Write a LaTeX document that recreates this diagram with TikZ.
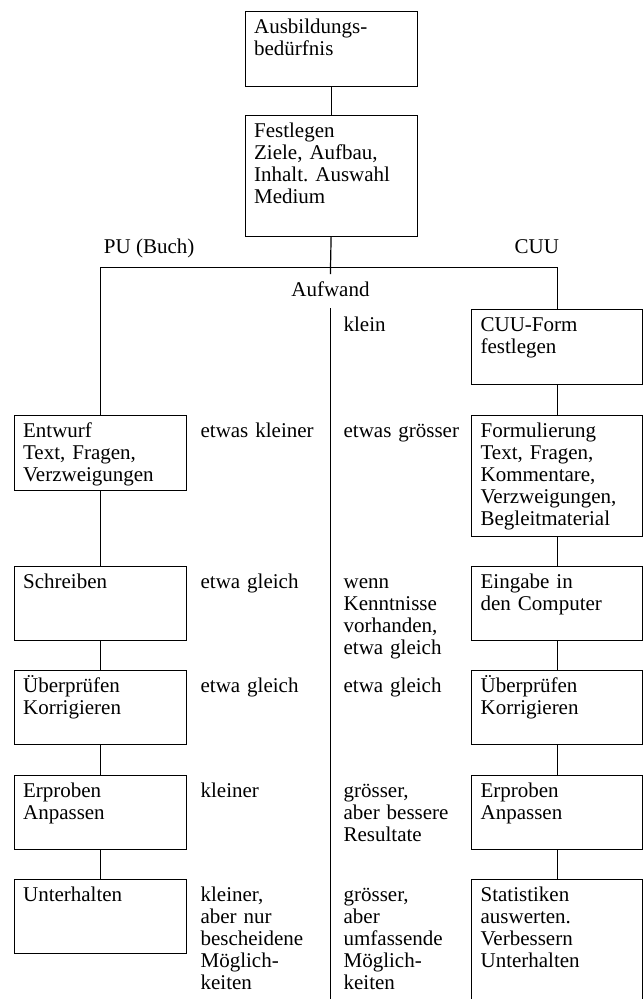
\documentclass[tikz,border=0pt]{standalone}
\usepackage{fontspec}
\setmainfont{Liberation Serif}
\frenchspacing

\tikzset{
  stepbox/.style={draw, anchor=north west, align=left, text width=#1,
    inner xsep=9pt, inner ysep=8pt, text height=14pt},
  stepbox/.default=154pt,
  note/.style={anchor=north west, align=left, text width=128pt,
    inner xsep=0pt, inner ysep=8pt, text height=14pt},
}

\begin{document}
\begin{tikzpicture}[x=1pt, y=-1pt, line width=1.2pt,
    font=\fontsize{21}{22}\selectfont]
        \useasboundingbox (0,0) rectangle (644,999);
        % helper coordinates
        \coordinate (bus)    at (330.5,267.5);
        \coordinate (bottom) at (330.5,1010);
        \coordinate (cola)   at (200,0);
        \coordinate (colb)   at (343,0);
        % top boxes
        \node[stepbox, text depth=45pt] (need) at (244.5,11)  {Ausbildungs-\\bedürfnis};
        \node[stepbox, text depth=91pt] (fest) at (244.5,115) {Festlegen\\Ziele, Aufbau,\\Inhalt. Auswahl\\Medium};
        % branch labels
        \node[anchor=base west] (pu)  at (100,253) {PU (Buch)};
        \node[anchor=base east] (cuu) at (563,253) {CUU};
        \node[anchor=north, text height=15pt, text depth=4pt, inner ysep=7pt] (aufwand) at (330.5,274) {Aufwand};
        % PU column
        \node[stepbox, text depth=45pt] (entwurf)   at (13.5,415) {Entwurf\\Text, Fragen,\\Verzweigungen};
        \node[stepbox, text depth=44pt] (schreiben) at (13.5,566) {Schreiben};
        \node[stepbox, text depth=44pt] (pruefpu)   at (13.5,670) {Überprüfen\\Korrigieren};
        \node[stepbox, text depth=44pt] (erprobpu)  at (13.5,775) {Erproben\\Anpassen};
        \node[stepbox, text depth=44pt] (unterpu)   at (13.5,879) {Unterhalten};
        % CUU column
        \node[stepbox=153pt, text depth=45pt]  (form)    at (471,309) {CUU-Form\\festlegen};
        \node[stepbox=153pt, text depth=91pt]  (formul)  at (471,415) {Formulierung\\Text, Fragen,\\Kommentare,\\Verzweigungen,\\Begleitmaterial};
        \node[stepbox=153pt, text depth=44pt]  (eingabe) at (471,566) {Eingabe in\\den Computer};
        \node[stepbox=153pt, text depth=44pt]  (pruefcu) at (471,670) {Überprüfen\\Korrigieren};
        \node[stepbox=153pt, text depth=44pt]  (erprobcu) at (471,775) {Erproben\\Anpassen};
        \node[stepbox=153pt, text depth=100pt] (stat)    at (471,879) {Statistiken\\auswerten.\\Verbessern\\Unterhalten};
        % Aufwand PU
        \node[note] (apu1) at (entwurf.north -| cola)   {etwas kleiner};
        \node[note] (apu2) at (schreiben.north -| cola) {etwa gleich};
        \node[note] (apu3) at (pruefpu.north -| cola)   {etwa gleich};
        \node[note] (apu4) at (erprobpu.north -| cola)  {kleiner};
        \node[note] (apu5) at (unterpu.north -| cola)   {kleiner,\\aber nur\\bescheidene\\Möglich-\\keiten};
        % Aufwand CUU
        \node[note] (acu0) at (form.north -| colb)      {klein};
        \node[note] (acu1) at (entwurf.north -| colb)   {etwas grösser};
        \node[note] (acu2) at (schreiben.north -| colb) {wenn\\Kenntnisse\\vorhanden,\\etwa gleich};
        \node[note] (acu3) at (pruefpu.north -| colb)   {etwa gleich};
        \node[note] (acu4) at (erprobpu.north -| colb)  {grösser,\\aber bessere\\Resultate};
        \node[note] (acu5) at (unterpu.north -| colb)   {grösser,\\aber\\umfassende\\Möglich-\\keiten};
        % connectors
        \draw (need) -- (fest);
        \draw (fest.south) -- (bus) -- (aufwand.north);
        \draw (aufwand.south) -- (bottom);
        \draw (entwurf.north) |- (bus) -| (form.north);
        \draw (entwurf) -- (schreiben) -- (pruefpu) -- (erprobpu) -- (unterpu);
        \draw (form) -- (formul) -- (eingabe) -- (pruefcu) -- (erprobcu) -- (stat);
    \end{tikzpicture}
\end{document}
